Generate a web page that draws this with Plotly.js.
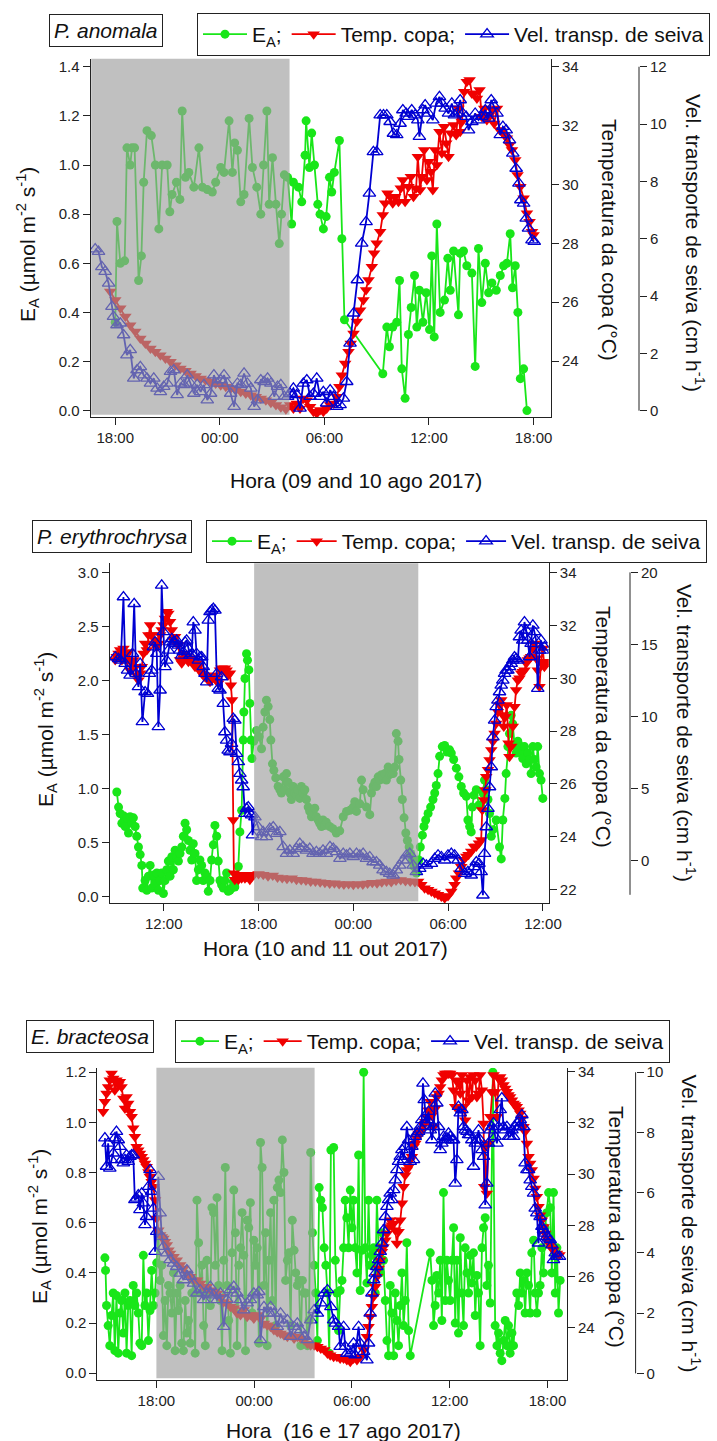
<!DOCTYPE html>
<html><head><meta charset="utf-8">
<script src="https://cdn.plot.ly/plotly-3.0.1.min.js"></script>
<style>html,body{margin:0;padding:0;background:#fff}</style>
</head><body><div id="chart" style="width:717px;height:1441px"></div>
<script>
// ---------- tick labels ----------
const p1TickVals = [18, 24, 30, 36, 42];
const p1TickText = ['18:00', '00:00', '06:00', '12:00', '18:00'];
const p2TickVals = [12, 18, 24, 30, 36];
const p2TickText = ['12:00', '18:00', '00:00', '06:00', '12:00'];
const p3TickVals = [18, 24, 30, 36, 42];
const p3TickText = ['18:00', '00:00', '06:00', '12:00', '18:00'];
const seriesNames = ['E<sub>A</sub>;', 'Temp. copa;', 'Vel. transp. de seiva'];

// ---------- Panel 1 : P. anomala (hours from 09 ago 00:00) ----------
const p1EaT = [18.00,18.10,18.29,18.54,18.67,18.86,18.96,19.11,19.34,19.50,19.63,19.82,20.07,20.30,20.50,20.69,20.98,21.13,21.26,21.51,21.71,21.84,22.03,22.22,22.51,22.80,23.00,23.28,23.57,23.76,24.05,24.24,24.53,24.72,24.85,25.01,25.20,25.39,25.68,25.87,26.12,26.35,26.51,26.70,26.83,27.02,27.22,27.41,27.54,27.70,27.89,28.12,28.22,28.51,28.70,28.89,28.95,29.14,29.27,29.43,29.62,29.75,29.94,30.10,30.29,30.42,30.57,30.86,31.00,31.15,33.35,33.58,33.73,33.92,34.15,34.31,34.44,34.63,34.82,34.98,35.17,35.30,35.45,35.65,35.84,36.03,36.16,36.30,36.45,36.64,36.89,37.08,37.22,37.41,37.69,37.79,37.98,38.17,38.46,38.65,38.84,39.03,39.23,39.42,39.61,39.86,40.09,40.28,40.47,40.66,40.79,40.95,41.10,41.24,41.43,41.62];
const p1Ea = [0.36,0.77,0.60,0.61,1.07,1.00,1.07,1.07,0.53,0.63,0.93,1.14,1.12,1.00,0.74,1.00,1.00,0.81,0.88,0.93,0.86,1.22,0.95,0.97,0.91,1.07,0.91,0.90,0.89,0.93,0.99,0.97,1.18,0.97,1.09,1.06,0.85,0.88,1.19,0.99,0.91,0.80,1.00,1.22,0.84,1.03,0.84,0.68,0.80,0.96,0.95,0.76,0.93,0.91,0.85,1.04,1.18,0.99,1.13,1.00,0.84,0.80,0.74,0.79,0.95,0.89,0.97,1.10,0.70,0.37,0.15,0.34,0.26,0.34,0.36,0.53,0.17,0.05,0.31,0.42,0.55,0.34,0.49,0.36,0.48,0.33,0.63,0.30,0.76,0.40,0.45,0.62,0.49,0.65,0.39,0.64,0.65,0.59,0.56,0.18,0.66,0.44,0.60,0.48,0.52,0.49,0.55,0.59,0.60,0.72,0.50,0.59,0.40,0.13,0.17,0.00];
const p1TempT = [17.71,18.00,18.29,18.58,18.86,19.15,19.44,19.73,20.02,20.30,20.59,20.88,21.17,21.46,21.74,22.03,22.32,22.61,22.90,23.18,23.47,23.76,24.05,24.34,24.62,24.91,25.20,25.49,25.78,26.06,26.35,26.64,26.93,27.22,27.50,27.79,28.03,28.22,28.41,28.60,28.79,28.99,29.18,29.37,29.56,29.75,29.94,30.13,30.33,30.52,30.71,30.86,31.00,31.19,31.38,31.51,31.67,31.86,32.05,32.24,32.39,32.53,32.72,32.85,33.00,33.20,33.35,33.48,33.62,33.77,33.92,34.06,34.25,34.38,34.50,34.63,34.82,34.96,35.11,35.26,35.36,35.49,35.59,35.72,35.88,35.97,36.11,36.22,36.35,36.45,36.60,36.74,36.87,36.99,37.12,37.25,37.41,37.56,37.69,37.79,37.89,38.02,38.17,38.33,38.46,38.59,38.75,38.90,39.03,39.17,39.32,39.47,39.61,39.74,39.90,40.05,40.18,40.32,40.47,40.62,40.76,40.95,41.08,41.24,41.43,41.62,41.77,41.91,42.00];
const p1Temp = [26.36,26.07,25.79,25.51,25.22,25.00,24.77,24.60,24.43,24.32,24.20,24.09,23.98,23.86,23.75,23.67,23.58,23.49,23.41,23.35,23.30,23.24,23.18,23.13,23.07,23.01,22.96,22.90,22.84,22.79,22.73,22.67,22.58,22.51,22.43,22.36,22.51,22.39,22.56,22.39,22.73,22.67,22.45,22.28,22.22,22.34,22.28,22.39,22.51,22.56,22.79,23.13,23.52,23.92,24.32,24.60,24.94,25.34,25.73,26.07,26.41,26.75,27.20,27.66,28.00,28.39,28.96,29.36,29.70,29.58,29.36,29.58,29.41,29.87,30.15,29.41,29.92,30.26,29.58,29.87,30.94,29.81,30.26,31.17,30.15,30.77,30.43,29.81,31.17,30.66,31.79,31.06,31.96,31.40,30.94,31.74,32.02,31.68,32.58,31.79,32.13,33.15,33.49,33.55,33.09,33.09,32.92,33.21,32.30,32.58,32.19,32.36,32.53,32.07,32.58,31.85,31.79,31.68,31.57,31.34,31.17,30.83,30.32,29.92,29.53,29.02,28.73,28.39,28.28];
const p1SapT = [16.85,17.04,17.23,17.42,17.62,17.81,17.90,18.10,18.29,18.48,18.67,18.86,19.06,19.25,19.44,19.63,19.82,20.02,20.21,20.40,20.59,20.78,20.98,21.17,21.36,21.55,21.74,21.94,22.13,22.32,22.51,22.70,22.90,23.09,23.28,23.47,23.66,23.86,24.05,24.24,24.43,24.62,24.82,25.01,25.20,25.39,25.58,25.78,25.97,26.16,26.35,26.54,26.74,26.93,27.12,27.31,27.50,27.70,27.89,28.03,28.22,28.41,28.60,28.79,28.99,29.18,29.37,29.56,29.75,29.94,30.13,30.33,30.52,30.71,30.90,31.09,31.28,31.47,31.67,31.89,32.14,32.39,32.58,32.81,33.00,33.20,33.39,33.58,33.77,33.96,34.15,34.34,34.50,34.69,34.82,35.01,35.21,35.36,35.45,35.65,35.78,35.97,36.22,36.41,36.60,36.74,36.93,37.12,37.31,37.46,37.60,37.79,37.94,38.13,38.27,38.46,38.65,38.84,39.03,39.23,39.42,39.57,39.70,39.90,40.09,40.24,40.43,40.62,40.81,41.00,41.16,41.27,41.43,41.58,41.71,41.91,42.04];
const p1Sap = [5.64,5.55,5.02,4.85,4.44,3.63,3.28,2.99,3.05,2.64,1.94,2.12,1.13,1.42,1.53,1.24,1.13,0.95,1.13,0.78,0.66,0.84,0.95,1.36,1.42,0.55,0.95,0.90,1.24,0.95,0.60,0.90,0.66,0.90,0.37,0.60,1.24,0.95,1.07,1.24,0.95,0.60,0.14,0.95,0.90,1.30,0.95,0.78,0.14,0.37,1.07,1.01,1.13,0.95,0.49,0.84,0.90,0.49,0.49,0.60,0.78,0.55,0.08,0.95,1.07,0.49,0.60,1.13,0.49,0.66,0.26,0.72,0.49,0.14,0.20,0.43,1.01,2.35,3.40,4.56,5.84,6.59,7.58,9.03,9.03,10.31,10.31,10.31,10.08,9.67,9.62,10.02,10.49,10.37,10.26,10.49,10.31,10.14,9.56,10.49,10.66,10.37,10.14,10.72,10.95,10.72,10.55,10.37,10.72,10.31,10.37,10.84,10.37,10.26,9.79,10.08,10.37,10.14,10.26,10.49,10.20,10.84,10.66,10.37,9.62,9.91,9.79,9.44,8.98,8.45,7.93,7.35,7.23,6.71,6.36,5.95,5.90];

// ---------- Panel 2 : P. erythrochrysa (hours from 10 out 00:00) ----------
const p2EaT = [9.03,9.14,9.24,9.35,9.45,9.56,9.66,9.77,9.87,9.98,10.08,10.19,10.29,10.40,10.51,10.61,10.67,10.82,10.93,11.03,11.14,11.24,11.35,11.45,11.56,11.66,11.77,11.87,11.98,12.08,12.19,12.29,12.40,12.51,12.61,12.72,12.82,12.93,13.03,13.14,13.24,13.35,13.45,13.56,13.66,13.77,13.87,13.98,14.08,14.19,14.29,14.40,14.50,14.61,14.72,14.82,14.93,15.03,15.14,15.24,15.35,15.45,15.56,15.66,15.77,15.87,15.98,16.08,16.19,16.29,16.40,16.50,16.61,16.72,16.82,16.93,17.03,17.07,17.14,17.24,17.30,17.39,17.45,17.52,17.58,17.70,17.87,18.04,18.19,18.29,18.40,18.50,18.61,18.71,18.78,18.88,18.97,19.09,19.24,19.35,19.45,19.56,19.66,19.77,19.87,19.98,20.08,20.19,20.29,20.40,20.50,20.61,20.71,20.82,20.93,21.03,21.14,21.24,21.35,21.45,21.56,21.66,21.77,21.87,21.98,22.08,22.19,22.29,22.50,22.71,22.92,23.14,23.36,23.57,23.78,23.99,24.09,24.20,24.41,24.52,24.62,24.83,25.04,25.15,25.25,25.36,25.46,25.57,25.67,25.78,25.88,25.99,26.09,26.20,26.30,26.41,26.52,26.62,26.72,26.83,26.89,27.00,27.10,27.21,27.32,27.42,27.53,27.63,27.74,27.84,27.99,28.14,28.24,28.37,28.47,28.58,28.73,28.89,29.04,29.15,29.25,29.36,29.46,29.63,29.78,29.93,30.09,30.20,30.35,30.52,30.68,30.83,30.98,31.15,31.25,31.36,31.46,31.53,31.63,31.78,31.95,32.09,32.20,32.30,32.41,32.52,32.62,32.73,32.83,33.04,33.25,33.36,33.46,33.59,33.67,33.78,33.88,33.99,34.09,34.20,34.30,34.41,34.51,34.62,34.72,34.83,34.94,35.04,35.15,35.25,35.36,35.46,35.57,35.67,35.78,35.88,35.99];
const p2Ea = [0.97,0.83,0.77,0.68,0.75,0.65,0.73,0.59,0.74,0.68,0.73,0.65,0.56,0.46,0.39,0.29,0.08,0.15,0.06,0.19,0.29,0.08,0.20,0.12,0.22,0.06,0.15,0.22,0.03,0.15,0.25,0.33,0.19,0.37,0.25,0.43,0.37,0.33,0.40,0.46,0.56,0.68,0.62,0.52,0.43,0.34,0.49,0.40,0.15,0.25,0.34,0.29,0.15,0.22,0.19,0.05,0.15,0.34,0.48,0.66,0.56,0.33,0.15,0.11,0.08,0.15,0.22,0.05,0.06,0.08,0.14,0.09,0.19,0.28,0.60,0.80,1.45,1.71,2.02,2.25,2.19,2.10,1.79,1.45,1.28,1.44,1.54,1.48,1.37,1.57,1.71,1.82,1.76,1.64,1.45,1.23,1.17,1.10,1.02,0.99,0.96,1.11,0.99,1.14,1.06,0.96,0.90,1.02,0.96,0.94,0.99,0.91,1.02,0.96,0.99,0.90,0.83,0.79,0.74,0.77,0.82,0.74,0.71,0.68,0.65,0.71,0.66,0.69,0.65,0.63,0.59,0.61,0.74,0.79,0.80,0.83,0.88,0.79,0.86,1.08,0.99,0.83,0.76,0.96,1.02,1.06,1.02,1.11,1.08,1.13,1.11,1.14,1.08,1.20,1.13,1.14,1.14,1.20,1.51,1.44,1.27,1.08,0.90,0.73,0.59,0.52,0.46,0.40,0.34,0.28,0.22,0.34,0.46,0.57,0.65,0.71,0.77,0.83,0.90,0.96,1.03,1.14,1.30,1.39,1.40,1.34,1.36,1.33,1.27,1.19,1.11,1.02,0.96,0.93,0.71,0.65,0.60,0.83,0.94,0.99,0.85,0.83,0.96,1.08,0.99,0.90,0.77,0.56,0.62,0.71,0.46,0.35,0.71,0.91,1.14,1.39,1.51,1.68,1.60,1.40,1.33,1.44,1.34,1.39,1.28,1.39,1.23,1.33,1.27,1.14,1.39,1.27,1.20,1.39,1.14,1.08,0.91];
const p2TempT = [8.93,9.03,9.14,9.24,9.35,9.45,9.56,9.66,9.77,9.87,9.98,10.08,10.19,10.29,10.40,10.51,10.61,10.72,10.82,10.93,11.03,11.14,11.24,11.35,11.45,11.56,11.66,11.77,11.87,11.98,12.08,12.19,12.29,12.40,12.51,12.61,12.72,12.82,12.93,13.03,13.14,13.24,13.35,13.45,13.56,13.66,13.77,13.87,13.98,14.08,14.19,14.29,14.40,14.50,14.61,14.72,14.82,14.93,15.03,15.14,15.24,15.35,15.45,15.56,15.66,15.77,15.87,15.98,16.08,16.19,16.25,16.32,16.40,16.44,16.50,16.61,16.72,16.82,16.93,17.03,17.14,17.24,17.35,17.45,17.56,17.70,18.0,18.3,18.6,18.9,19.2,19.5,19.8,20.1,20.4,20.7,21.0,21.3,21.6,21.9,22.2,22.5,22.8,23.1,23.4,23.7,24.0,24.3,24.6,24.9,25.2,25.5,25.8,26.1,26.4,26.7,27.0,27.3,27.6,27.9,28.1,28.30,28.51,28.73,28.94,29.15,29.36,29.57,29.78,29.99,30.20,30.41,30.51,30.68,30.83,30.98,31.15,31.29,31.46,31.63,31.78,31.95,32.09,32.16,32.26,32.35,32.41,32.52,32.62,32.73,32.83,32.94,33.04,33.15,33.25,33.36,33.46,33.52,33.63,33.71,33.82,33.88,33.99,34.09,34.20,34.30,34.41,34.51,34.62,34.72,34.83,34.94,35.04,35.15,35.25,35.36,35.46,35.57,35.67,35.78,35.88,35.99,36.09,36.20];
const p2Temp = [30.69,30.82,30.94,31.07,30.69,31.13,30.82,30.69,31.00,30.31,30.57,30.69,30.44,30.12,29.93,30.19,30.44,30.94,31.32,31.07,31.64,32.02,31.64,31.32,31.45,31.20,31.32,31.64,31.83,32.02,32.27,32.52,32.46,32.14,31.83,31.45,31.58,31.32,31.26,30.69,30.57,30.76,30.94,30.82,30.63,30.69,30.76,30.57,30.44,30.57,30.44,30.31,30.19,30.12,30.06,30.00,29.93,29.87,30.00,30.12,30.00,29.93,29.81,30.31,30.38,30.31,30.38,30.31,30.12,30.19,29.74,29.18,24.63,22.61,22.36,22.55,22.36,22.48,22.42,22.55,22.42,22.48,22.55,22.36,22.48,22.55,22.58,22.55,22.50,22.52,22.45,22.43,22.40,22.42,22.36,22.35,22.33,22.30,22.30,22.27,22.25,22.22,22.23,22.20,22.18,22.20,22.17,22.20,22.18,22.22,22.25,22.23,22.27,22.30,22.28,22.33,22.35,22.32,22.30,22.28,22.30,22.17,22.04,21.98,21.92,21.85,21.79,21.73,21.66,21.75,21.92,22.17,22.42,22.61,22.86,23.12,23.24,23.31,23.43,23.62,23.62,23.75,23.87,25.01,25.39,25.77,26.27,26.53,26.90,27.28,27.60,27.91,28.29,28.73,28.99,29.18,28.61,28.17,28.55,28.99,27.54,27.03,27.41,28.17,28.92,29.56,29.93,30.00,30.19,30.25,30.31,30.57,30.69,30.76,30.82,31.13,31.32,30.76,30.31,29.68,30.63,31.13,30.44,30.63];
const p2SapT = [8.93,9.14,9.28,9.45,9.56,9.71,9.87,10.02,10.13,10.25,10.40,10.51,10.65,10.82,10.97,11.09,11.24,11.35,11.45,11.56,11.66,11.77,11.87,11.98,12.08,12.19,12.29,12.40,12.51,12.61,12.72,12.82,12.93,13.03,13.14,13.24,13.35,13.45,13.56,13.66,13.77,13.87,13.98,14.08,14.19,14.29,14.40,14.50,14.61,14.72,14.82,14.93,15.03,15.14,15.24,15.35,15.45,15.56,15.66,15.77,15.87,15.98,16.08,16.19,16.29,16.40,16.50,16.61,16.72,16.82,16.93,17.03,17.14,17.24,17.35,17.45,17.56,17.62,17.77,17.98,18.19,18.29,18.50,18.71,18.93,19.14,19.35,19.56,19.77,19.98,20.19,20.40,20.61,20.82,21.03,21.24,21.45,21.66,21.87,22.08,22.29,22.52,22.73,22.94,23.15,23.36,23.57,23.78,23.99,24.20,24.41,24.62,24.83,25.04,25.25,25.46,25.67,25.88,26.09,26.30,26.52,26.72,26.93,27.15,27.36,27.57,27.78,27.99,28.20,28.41,28.62,28.94,29.15,29.36,29.57,29.78,29.99,30.20,30.41,30.62,30.83,31.04,31.25,31.46,31.63,31.78,31.95,32.09,32.20,32.30,32.41,32.52,32.62,32.73,32.83,32.94,33.04,33.15,33.25,33.36,33.46,33.57,33.67,33.78,33.88,33.99,34.09,34.20,34.30,34.41,34.51,34.62,34.72,34.83,34.94,35.04,35.15,35.25,35.36,35.46,35.57,35.67,35.78,35.88,35.99,36.09];
const p2Sap = [14.12,14.00,13.89,18.29,13.66,13.19,12.85,14.35,17.82,12.96,12.04,13.66,9.61,11.69,11.57,12.96,13.19,14.81,15.16,14.35,9.26,11.81,19.10,15.86,13.43,13.89,14.58,15.16,15.39,15.16,15.05,15.28,14.93,14.58,14.24,14.47,15.16,15.28,14.70,14.24,14.35,16.55,15.97,14.35,13.89,14.12,14.12,13.43,12.96,12.38,16.67,17.25,17.36,17.48,17.36,12.96,11.92,11.81,12.73,10.88,8.91,8.33,7.64,7.52,8.10,9.84,9.72,7.41,6.83,6.02,5.56,5.09,3.24,3.59,3.70,3.24,3.13,1.74,3.00,2.31,1.62,1.97,1.62,2.20,2.31,1.85,1.97,0.93,0.46,0.69,0.46,0.81,1.16,0.93,0.69,0.81,0.46,0.58,0.46,0.69,0.46,0.93,0.81,0.58,0.12,0.46,0.35,0.46,0.23,0.46,0.35,0.46,0.12,0.23,-0.12,-0.12,-0.35,-0.69,-0.81,-0.93,-1.04,-0.69,-0.35,0.00,0.35,0.46,-0.35,-0.81,-0.58,-0.23,-0.35,-0.23,0.12,0.35,0.23,0.00,0.35,0.46,0.35,0.00,-0.58,-0.93,-0.81,-1.04,-0.46,-0.12,-0.23,-0.81,-2.43,0.46,2.31,3.59,5.09,6.48,8.56,9.72,10.65,11.11,11.69,12.15,12.50,12.96,13.19,13.19,13.43,13.66,13.89,14.12,14.00,13.89,15.51,15.97,15.28,16.55,15.97,15.28,14.12,15.05,16.32,15.86,15.28,11.92,14.58,15.28,14.58,14.81];

// ---------- Panel 3 : E. bracteosa (hours from 16 ago 00:00) ----------
const p3EaT = [14.84,14.88,14.94,15.04,15.14,15.25,15.35,15.45,15.55,15.66,15.76,15.86,15.97,16.07,16.17,16.27,16.38,16.48,16.58,16.68,16.79,16.89,16.99,17.10,17.20,17.30,17.40,17.51,17.61,17.71,17.82,17.92,18.02,18.12,18.23,18.33,18.43,18.53,18.64,18.74,18.84,18.95,19.05,19.15,19.25,19.36,19.46,19.56,19.66,19.77,19.87,19.97,20.08,20.18,20.28,20.38,20.49,20.59,20.69,20.80,20.90,21.00,21.10,21.21,21.31,21.41,21.51,21.62,21.72,21.82,21.93,22.03,22.13,22.23,22.34,22.44,22.54,22.64,22.75,22.85,22.95,23.06,23.16,23.26,23.36,23.47,23.57,23.67,23.77,23.88,23.98,24.08,24.19,24.29,24.39,24.49,24.60,24.70,24.80,24.90,25.01,25.11,25.21,25.32,25.42,25.52,25.62,25.73,25.83,25.93,26.04,26.14,26.24,26.34,26.45,26.55,26.65,26.75,26.86,26.96,27.06,27.16,27.27,27.37,27.47,27.58,27.68,27.78,27.88,27.99,28.09,28.19,28.30,28.40,28.50,28.61,28.71,28.88,28.98,29.08,29.18,29.28,29.39,29.49,29.59,29.69,29.80,29.90,30.00,30.10,30.20,30.31,30.41,30.51,30.61,30.72,30.82,30.92,31.02,31.12,31.23,31.33,31.43,31.53,31.64,31.74,31.84,31.94,32.05,32.15,32.25,32.35,32.45,32.56,32.66,32.76,32.86,32.97,33.07,33.17,33.27,33.37,33.48,33.58,34.81,34.91,35.01,35.11,35.21,35.32,35.42,35.52,35.62,35.73,35.83,35.93,36.03,36.14,36.24,36.34,36.44,36.54,36.65,36.75,36.85,36.95,37.06,37.16,37.26,37.36,37.46,37.57,37.67,37.77,37.87,37.98,38.08,38.18,38.28,38.38,38.49,38.65,38.79,38.90,39.00,39.10,39.20,39.30,39.41,39.51,39.61,39.71,39.82,39.92,40.12,40.23,40.33,40.43,40.53,40.63,40.74,40.84,40.94,41.04,41.15,41.25,41.35,41.45,41.55,41.66,41.76,41.86,41.96,42.07,42.17,42.27,42.37,42.48,42.58,42.68,42.78];
const p3Ea = [0.46,0.41,0.27,0.19,0.11,0.23,0.32,0.09,0.31,0.08,0.24,0.29,0.16,0.32,0.08,0.27,0.29,0.07,0.35,0.27,0.32,0.24,0.12,0.11,0.47,0.27,0.32,0.13,0.25,0.41,0.27,0.32,0.44,0.56,0.37,0.43,0.15,0.29,0.11,0.35,0.32,0.24,0.40,0.09,0.32,0.25,0.35,0.12,0.09,0.29,0.16,0.21,0.12,0.32,0.37,0.08,0.69,0.52,0.32,0.43,0.19,0.11,0.45,0.32,0.27,0.66,0.64,0.43,0.70,0.35,0.29,0.09,0.45,0.82,0.35,0.21,0.08,0.48,0.73,0.56,0.11,0.43,0.50,0.64,0.47,0.09,0.61,0.58,0.68,0.24,0.53,0.43,0.50,0.12,0.92,0.82,0.35,0.56,0.11,0.45,0.64,0.29,0.69,0.19,0.74,0.77,0.72,0.93,0.80,0.37,0.45,0.48,0.19,0.61,0.49,0.40,0.35,0.37,0.11,0.37,0.32,0.32,0.11,0.21,0.88,0.56,0.43,0.32,0.13,0.74,0.69,0.66,0.50,0.43,0.32,0.08,0.89,0.90,0.45,0.32,0.17,0.33,0.37,0.50,0.69,0.62,0.50,0.73,0.58,0.69,0.50,0.40,0.87,0.33,0.49,1.20,0.50,0.36,0.69,0.43,0.47,0.50,0.32,0.69,0.50,0.40,0.56,0.45,0.29,0.13,0.07,0.35,0.24,0.07,0.32,0.21,0.11,0.27,0.40,0.19,0.29,0.52,0.17,0.07,0.48,0.37,0.19,0.27,0.39,0.32,0.45,0.21,0.72,0.29,0.45,0.37,0.29,0.45,0.58,0.20,0.45,0.16,0.54,0.32,0.19,0.50,0.40,0.32,0.47,0.36,0.48,0.23,0.39,0.32,0.11,0.50,0.58,0.62,0.35,0.43,0.28,1.20,0.19,0.11,0.16,0.08,0.05,0.13,0.21,0.11,0.19,0.08,0.16,0.11,0.32,0.27,0.40,0.32,0.37,0.24,0.40,0.35,0.24,0.48,0.53,0.32,0.24,0.32,0.35,0.50,0.40,0.58,0.64,0.72,0.66,0.40,0.72,0.32,0.50,0.24,0.37];
const p3TempT = [14.73,14.84,14.94,15.04,15.14,15.25,15.35,15.45,15.55,15.66,15.76,15.86,15.97,16.07,16.17,16.27,16.38,16.48,16.58,16.68,16.79,16.89,16.99,17.10,17.20,17.30,17.40,17.51,17.61,17.71,17.82,17.92,18.02,18.12,18.23,18.33,18.43,18.53,18.64,18.74,18.84,19.05,19.25,19.46,19.66,19.87,20.08,20.28,20.49,20.69,20.90,21.10,21.31,21.51,21.72,21.93,22.13,22.34,22.54,22.75,22.95,23.16,23.36,23.57,23.77,23.98,24.19,24.39,24.60,24.80,25.01,25.21,25.42,25.62,25.83,26.04,26.24,26.45,26.65,26.86,27.06,27.27,27.47,27.68,27.88,28.09,28.30,28.50,28.67,28.88,29.08,29.28,29.49,29.69,29.90,30.10,30.31,30.51,30.72,30.92,31.02,31.12,31.23,31.33,31.43,31.53,31.64,31.74,31.84,31.94,32.05,32.15,32.25,32.35,32.45,32.56,32.66,32.76,32.86,32.97,33.07,33.17,33.27,33.37,33.48,33.58,33.68,33.78,33.89,33.99,34.09,34.19,34.29,34.40,34.50,34.60,34.70,34.81,34.91,35.01,35.11,35.21,35.32,35.42,35.52,35.62,35.73,35.83,35.93,36.03,36.14,36.24,36.34,36.44,36.54,36.65,36.75,36.85,36.95,37.06,37.16,37.26,37.36,37.46,37.57,37.67,37.77,37.87,37.98,38.08,38.12,38.18,38.28,38.38,38.49,38.59,38.69,38.79,38.90,39.00,39.10,39.20,39.30,39.41,39.51,39.61,39.71,39.82,39.92,40.02,40.12,40.23,40.33,40.43,40.53,40.63,40.74,40.84,40.94,41.04,41.15,41.25,41.35,41.45,41.55,41.66,41.76,41.86,41.96,42.07,42.17,42.27,42.37,42.58,42.74];
const p3Temp = [32.44,32.83,33.15,33.41,33.67,33.93,33.74,33.28,33.67,33.48,33.61,33.41,32.96,32.57,33.02,32.76,32.44,32.24,31.79,31.46,31.07,30.94,30.81,30.68,30.55,30.42,30.29,30.09,29.90,29.70,29.51,28.99,28.27,27.81,27.62,27.55,27.49,27.36,27.23,27.03,26.90,26.77,26.64,26.45,26.32,26.12,25.99,25.86,25.86,25.73,25.60,25.60,25.47,25.41,25.34,25.21,25.01,24.95,24.82,24.76,24.57,24.50,24.69,24.43,24.50,24.36,24.50,24.36,24.17,24.10,24.04,23.91,23.84,23.78,23.71,23.65,23.71,23.58,23.65,23.58,23.52,23.39,23.32,23.32,23.26,23.19,23.13,23.00,22.93,22.87,22.87,22.80,22.80,22.74,22.67,22.80,22.74,22.87,23.13,23.65,24.04,24.43,24.82,25.21,25.60,25.99,26.32,26.64,26.97,27.16,27.42,27.68,27.94,28.20,28.01,28.07,27.81,27.29,27.75,28.20,28.86,29.51,29.96,30.16,30.29,30.55,30.68,31.07,31.20,31.40,31.59,31.66,31.72,31.92,32.05,32.24,32.50,32.83,32.31,31.85,32.57,33.02,33.15,33.41,33.67,33.87,33.93,33.93,33.93,33.93,33.87,33.28,32.63,33.67,33.54,33.15,33.87,32.63,32.11,33.67,32.89,33.80,33.02,33.87,33.67,33.02,33.15,33.87,33.28,31.98,29.51,31.07,29.25,31.20,32.24,33.21,33.87,33.21,32.24,33.74,33.80,33.67,33.48,33.35,33.22,33.09,33.02,32.89,32.76,32.70,32.63,32.50,32.37,32.18,31.85,31.66,31.20,30.68,30.42,30.16,29.83,29.44,29.12,28.73,28.40,28.20,27.94,27.68,27.49,27.36,27.23,27.10,27.03,26.90,26.84];
const p3SapT = [14.84,14.94,15.04,15.14,15.25,15.35,15.45,15.55,15.66,15.76,15.86,15.97,16.07,16.17,16.27,16.38,16.48,16.58,16.68,16.79,16.89,16.99,17.10,17.20,17.30,17.40,17.51,17.61,17.71,17.82,17.92,18.02,18.12,18.23,18.33,18.43,18.64,18.84,19.05,19.25,19.46,19.66,19.87,20.08,20.28,20.49,20.69,20.90,21.10,21.31,21.51,21.72,21.93,22.13,22.34,22.54,22.75,22.95,23.16,23.36,23.57,23.77,23.98,24.19,24.29,24.39,24.60,24.80,25.01,25.21,25.42,25.62,25.83,26.04,26.24,26.45,26.65,26.86,27.06,27.27,27.47,27.68,27.88,28.09,28.30,28.50,28.71,28.88,28.98,29.18,29.28,29.49,29.59,29.69,29.90,30.10,30.20,30.41,30.51,30.72,30.92,31.02,31.12,31.23,31.33,31.43,31.53,31.64,31.74,31.84,31.94,32.05,32.15,32.25,32.35,32.45,32.56,32.66,32.76,32.86,32.97,33.07,33.17,33.27,33.37,33.48,33.58,33.68,33.78,33.89,33.99,34.09,34.19,34.29,34.36,34.44,34.56,34.64,34.70,34.81,34.91,35.01,35.11,35.21,35.32,35.42,35.52,35.62,35.73,35.83,35.93,36.03,36.14,36.24,36.34,36.44,36.54,36.65,36.75,36.85,36.95,37.06,37.16,37.26,37.36,37.46,37.57,37.67,37.77,37.87,37.98,38.08,38.18,38.28,38.38,38.49,38.59,38.69,38.79,38.90,39.00,39.10,39.20,39.30,39.41,39.51,39.61,39.71,39.82,39.92,40.02,40.12,40.23,40.33,40.43,40.53,40.63,40.74,40.84,40.94,41.04,41.15,41.25,41.35,41.45,41.55,41.66,41.76,41.86,41.96,42.07,42.17,42.27,42.37,42.48,42.58,42.74];
const p3Sap = [7.81,6.87,7.64,6.81,7.09,7.31,7.81,8.03,7.75,7.53,7.09,6.98,7.09,7.25,7.03,7.20,7.25,7.25,5.76,5.81,5.92,5.43,5.98,5.65,4.93,5.20,6.20,6.76,6.04,5.48,4.04,4.71,6.53,5.32,4.54,4.21,3.99,3.77,3.65,3.54,3.32,3.10,3.43,3.21,2.99,2.66,2.77,2.44,2.66,2.88,2.60,2.44,2.66,1.55,2.44,2.77,2.88,2.66,2.44,2.10,2.33,2.44,2.66,2.60,2.71,1.11,2.21,1.99,2.21,1.99,1.55,1.99,1.66,1.77,1.22,1.55,1.66,1.44,1.22,1.11,1.77,2.10,1.99,2.33,2.66,2.77,2.21,1.77,1.66,1.55,0.89,1.55,0.89,0.66,0.66,1.00,0.61,1.55,1.00,0.72,0.44,1.00,1.99,2.66,3.10,3.32,3.54,3.77,4.04,4.32,4.76,5.20,5.54,5.76,5.98,5.76,6.09,6.42,6.76,7.03,7.20,7.42,7.09,7.53,8.19,7.75,7.03,7.53,7.09,7.86,7.97,8.03,8.19,8.42,9.63,9.08,8.31,8.42,8.69,8.08,7.75,8.19,9.30,8.97,8.19,7.42,7.64,7.86,7.75,7.81,7.97,7.86,7.75,7.75,6.31,7.09,8.86,8.64,8.75,8.19,8.08,8.03,7.92,7.92,7.75,6.87,7.64,7.75,8.08,7.75,7.42,7.20,5.59,6.31,7.64,8.08,8.19,8.31,7.86,7.64,8.19,8.75,9.14,8.19,8.08,8.19,7.86,7.86,8.08,7.86,8.19,8.31,8.19,8.42,8.58,8.19,6.98,6.76,6.76,6.42,6.20,5.98,5.48,5.32,4.32,5.20,4.87,4.76,4.65,4.54,4.48,4.43,4.26,3.77,3.99,3.88,3.88];

// ---------- styling ----------
const FONT = 'Liberation Sans, Arial, Helvetica, sans-serif';
const GREEN = 'rgb(25,230,25)', RED = 'rgb(240,0,0)', BLUE = 'rgb(0,0,210)';
const styles = [
  {line: {color: GREEN, width: 1.8}, marker: {symbol: 'circle', size: 9, color: GREEN}},
  {line: {color: RED, width: 1.8}, marker: {symbol: 'triangle-down', size: 11, color: RED}},
  {line: {color: BLUE, width: 1.8}, marker: {symbol: 'triangle-up-open', size: 11, color: BLUE, line: {color: BLUE, width: 1.3}}}
];
function tr(x, y, k, xa, ya, leg) {
  return Object.assign({type: 'scatter', mode: 'lines+markers', x: x, y: y, name: seriesNames[k],
    xaxis: xa, yaxis: ya, legend: leg, cliponaxis: true}, JSON.parse(JSON.stringify(styles[k])));
}
const data = [
  tr(p1EaT, p1Ea, 0, 'x', 'y', 'legend'),
  tr(p1TempT, p1Temp, 1, 'x', 'y2', 'legend'),
  tr(p1SapT, p1Sap, 2, 'x', 'y3', 'legend'),
  tr(p2EaT, p2Ea, 0, 'x2', 'y4', 'legend2'),
  tr(p2TempT, p2Temp, 1, 'x2', 'y5', 'legend2'),
  tr(p2SapT, p2Sap, 2, 'x2', 'y6', 'legend2'),
  tr(p3EaT, p3Ea, 0, 'x3', 'y7', 'legend3'),
  tr(p3TempT, p3Temp, 1, 'x3', 'y8', 'legend3'),
  tr(p3SapT, p3Sap, 2, 'x3', 'y9', 'legend3')
];

const W = 717, H = 1441;
const px = v => v / W, py = v => 1 - v / H;
const tickFont = {family: FONT, size: 15, color: '#222'};
function ax(extra) {
  return Object.assign({showgrid: false, zeroline: false, showline: true, linecolor: '#222', linewidth: 1,
    ticks: 'outside', ticklen: 7, tickwidth: 1, tickcolor: '#222', tickfont: tickFont, fixedrange: true}, extra);
}
function leg(x, y, iw) {
  return {x: px(x), y: py(y), orientation: 'h', xanchor: 'left', yanchor: 'top', bordercolor: '#222', borderwidth: 1,
    bgcolor: '#fff', font: {family: FONT, size: 21, color: '#111'}, itemclick: false, tracegroupgap: 0, itemwidth: iw};
}

const layout = {
  width: W, height: H, margin: {l: 0, r: 0, t: 0, b: 0, autoexpand: false}, paper_bgcolor: '#fff', plot_bgcolor: 'rgba(0,0,0,0)',
  font: {family: FONT, color: '#111'}, showlegend: true,
  xaxis: ax({domain: [px(90.5), px(551)], range: [16.58, 43.0], anchor: 'y', tickvals: p1TickVals, ticktext: p1TickText}),
  yaxis: ax({domain: [py(417), py(58.7)], range: [-0.026, 1.433], anchor: 'x', dtick: 0.2, tick0: 0, tickformat: '.1f'}),
  yaxis2: ax({overlaying: 'y', side: 'right', anchor: 'x', range: [22.10, 34.27], tickvals: [24, 26, 28, 30, 32, 34]}),
  yaxis3: ax({overlaying: 'y', side: 'right', anchor: 'free', position: px(639), range: [-0.22, 12.28], dtick: 2, tick0: 0, showline: false}),
  xaxis2: ax({domain: [px(109.7), px(548.8)], range: [8.58, 36.37], anchor: 'y4', tickvals: p2TickVals, ticktext: p2TickText}),
  yaxis4: ax({domain: [py(903.3), py(563.3)], range: [-0.061, 3.087], anchor: 'x2', dtick: 0.5, tick0: 0, tickformat: '.1f'}),
  yaxis5: ax({overlaying: 'y4', side: 'right', anchor: 'x2', range: [21.47, 34.36], tickvals: [22, 24, 26, 28, 30, 32, 34]}),
  yaxis6: ax({overlaying: 'y4', side: 'right', anchor: 'free', position: px(630), range: [-2.99, 20.63], tickvals: [0, 5, 10, 15, 20], showline: false}),
  xaxis3: ax({domain: [px(97.4), px(567)], range: [14.38, 43.2], anchor: 'y7', tickvals: p3TickVals, ticktext: p3TickText}),
  yaxis7: ax({domain: [py(1380), py(1067.7)], range: [-0.027, 1.218], anchor: 'x3', dtick: 0.2, tick0: 0, tickformat: '.1f'}),
  yaxis8: ax({overlaying: 'y7', side: 'right', anchor: 'x3', range: [21.96, 34.16], tickvals: [24, 26, 28, 30, 32, 34]}),
  yaxis9: ax({overlaying: 'y7', side: 'right', anchor: 'free', position: px(635.6), range: [-0.22, 10.15], dtick: 2, tick0: 0, showline: false}),
  legend: leg(197, 13, 44),
  legend2: leg(206, 520, 40),
  legend3: leg(175, 1020, 38),
  shapes: [
    {type: 'rect', xref: 'x', yref: 'y domain', x0: 16.62, x1: 28.0, y0: 0.006, y1: 1, fillcolor: 'rgba(156,156,156,0.64)', line: {width: 0}, layer: 'above'},
    {type: 'rect', xref: 'x2', yref: 'y4 domain', x0: 17.72, x1: 28.11, y0: 0.006, y1: 1, fillcolor: 'rgba(156,156,156,0.64)', line: {width: 0}, layer: 'above'},
    {type: 'rect', xref: 'x3', yref: 'y7 domain', x0: 18.0, x1: 27.71, y0: 0.006, y1: 1, fillcolor: 'rgba(156,156,156,0.64)', line: {width: 0}, layer: 'above'},
    {type: 'line', xref: 'paper', yref: 'y3', x0: px(639), x1: px(639), y0: 0, y1: 12, line: {color: '#222', width: 1}},
    {type: 'line', xref: 'paper', yref: 'y6', x0: px(630), x1: px(630), y0: -2.4, y1: 20, line: {color: '#222', width: 1}},
    {type: 'line', xref: 'paper', yref: 'y9', x0: px(635.6), x1: px(635.6), y0: 0, y1: 10, line: {color: '#222', width: 1}}
  ],
  annotations: []
};

function note(text, x, y, opts) {
  layout.annotations.push(Object.assign({text: text, xref: 'paper', yref: 'paper', x: px(x), y: py(y),
    xanchor: 'center', yanchor: 'middle', showarrow: false, font: {family: FONT, size: 21, color: '#111'}}, opts || {}));
}
const eaTitle = 'E<sub>A</sub> (µmol m<sup>-2</sup> s<sup>-1</sup>)';
const tTitle = 'Temperatura da copa (°C)';
const sTitle = 'Vel. transporte de seiva (cm h<sup>-1</sup>)';
const box = {bordercolor: '#222', borderwidth: 1, borderpad: 4, bgcolor: '#fff'};
// panel 1
note('<i>P. anomala</i>', 106, 30, Object.assign({font: {family: FONT, size: 21, color: '#111'}}, box));
note(eaTitle, 28, 245, {textangle: -90});
note(tTitle, 610, 240, {textangle: 90});
note(sTitle, 695, 243, {textangle: 90});
note('Hora (09 and 10 ago 2017)', 355.5, 480);
// panel 2
note('<i>P. erythrochrysa</i>', 112, 536.5, Object.assign({font: {family: FONT, size: 21, color: '#111'}}, box));
note(eaTitle, 45, 730, {textangle: -90});
note(tTitle, 604, 727, {textangle: 90});
note(sTitle, 686, 733, {textangle: 90});
note('Hora (10 and 11 out 2017)', 325.7, 948);
// panel 3
note('<i>E. bracteosa</i>', 90, 1036, Object.assign({font: {family: FONT, size: 21, color: '#111'}}, box));
note(eaTitle, 39, 1227, {textangle: -90});
note(tTitle, 617, 1227, {textangle: 90});
note(sTitle, 690.5, 1223, {textangle: 90});
note('Hora&nbsp;&nbsp;(16 e 17 ago 2017)', 343, 1430);

Plotly.newPlot('chart', data, layout, {staticPlot: true, displayModeBar: false});
</script></body></html>
